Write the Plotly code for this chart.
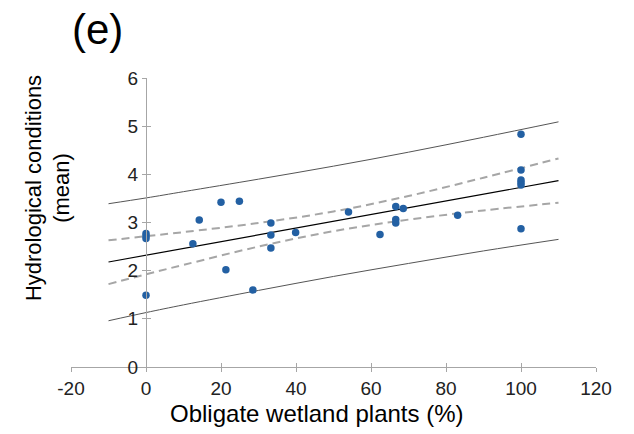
import plotly.graph_objects as go

# Observed data points
obligate_pct = [0, 0, 0, 0, 12.5, 14.2, 20, 21.3, 24.9, 28.5, 33.3, 33.3, 33.3, 39.9,
                54, 62.4, 66.6, 66.6, 66.6, 68.6, 83.1, 100, 100, 100, 100, 100, 100]
hydro_mean = [2.77, 2.72, 2.67, 1.49, 2.56, 3.05, 3.42, 2.02, 3.44, 1.60, 2.99, 2.74, 2.47, 2.79,
              3.22, 2.75, 3.33, 3.06, 2.99, 3.29, 3.15, 4.83, 4.09, 3.88, 3.83, 3.78, 2.87]

# Fitted line and bands
band_x = [-10, 0, 10, 30, 50, 70, 90, 110]
fit_y = [2.18, 2.32, 2.46, 2.74, 3.03, 3.31, 3.59, 3.87]
conf_upper = [2.63, 2.715, 2.80, 2.99, 3.23, 3.55, 3.93, 4.33]
conf_lower = [1.72, 1.925, 2.12, 2.50, 2.82, 3.06, 3.25, 3.41]
pred_upper = [3.39, 3.51, 3.64, 3.90, 4.17, 4.46, 4.77, 5.09]
pred_lower = [0.96, 1.13, 1.29, 1.59, 1.88, 2.15, 2.41, 2.65]

x_ticks = [-20, 0, 20, 40, 60, 80, 100, 120]
x_tick_labels = ["-20", "0", "20", "40", "60", "80", "100", "120"]
y_ticks = [0, 1, 2, 3, 4, 5, 6]

FONT = "Liberation Sans, Arial, sans-serif"
AXC = "#a6a6a6"

fig = go.Figure()
for yy in (pred_upper, pred_lower):
    fig.add_trace(go.Scatter(x=band_x, y=yy, mode="lines", line=dict(color="#555555", width=1, shape="spline"),
                             showlegend=False, hoverinfo="skip"))
for yy in (conf_upper, conf_lower):
    fig.add_trace(go.Scatter(x=band_x, y=yy, mode="lines",
                             line=dict(color="#a6a6a6", width=2, dash="8px,5px", shape="spline"),
                             showlegend=False, hoverinfo="skip"))
fig.add_trace(go.Scatter(x=band_x, y=fit_y, mode="lines", line=dict(color="#000000", width=1.2),
                         showlegend=False, hoverinfo="skip"))
fig.add_trace(go.Scatter(x=obligate_pct, y=hydro_mean, mode="markers",
                         marker=dict(color="#2360a3", size=7.5), showlegend=False))
# invisible trace to keep overlay axes
fig.add_trace(go.Scatter(x=[0], y=[0], xaxis="x2", yaxis="y2", mode="markers",
                         marker=dict(opacity=0), showlegend=False, hoverinfo="skip"))

tickfont = dict(family=FONT, size=19, color="#222222")
fig.update_layout(
    width=634, height=434,
    margin=dict(l=71, r=38, t=78, b=67),
    paper_bgcolor="white", plot_bgcolor="white",
    xaxis=dict(range=[-20, 120], tickvals=x_ticks, ticktext=x_tick_labels, showgrid=False, zeroline=False,
               showline=True, linecolor=AXC, linewidth=1, ticks="outside", ticklen=4,
               tickcolor=AXC, tickfont=tickfont, anchor="y"),
    yaxis=dict(range=[0, 6], tickvals=y_ticks, showgrid=False, zeroline=False,
               showline=True, linecolor=AXC, linewidth=1, ticks="outside", ticklen=4,
               tickcolor=AXC, tickfont=tickfont, anchor="free", position=20/140),
    xaxis2=dict(range=[-20, 120], tickvals=x_ticks, overlaying="x", showgrid=False, zeroline=False,
                showline=False, ticks="inside", ticklen=4, tickcolor=AXC, showticklabels=False,
                anchor="y2"),
    yaxis2=dict(range=[0, 6], tickvals=y_ticks, overlaying="y", showgrid=False, zeroline=False,
                showline=False, ticks="inside", ticklen=4, tickcolor=AXC, showticklabels=False,
                anchor="free", position=20/140),
    annotations=[
        dict(text="(e)", x=(97 - 71) / 525, y=(367 - 30) / 289, xref="paper", yref="paper", showarrow=False,
             font=dict(family=FONT, size=42, color="#000000"), xanchor="center", yanchor="middle"),
        dict(text="Hydrological conditions<br>(mean)", x=(48 - 71) / 525, y=0.619, xref="paper", yref="paper",
             showarrow=False, textangle=-90, font=dict(family=FONT, size=22, color="#000000"),
             xanchor="center", yanchor="middle"),
        dict(text="Obligate wetland plants (%)", x=(316 - 71) / 525, y=(367 - 413) / 289, xref="paper", yref="paper",
             showarrow=False, font=dict(family=FONT, size=24, color="#000000"),
             xanchor="center", yanchor="middle"),
    ],
)
fig.write_html("out.html")
